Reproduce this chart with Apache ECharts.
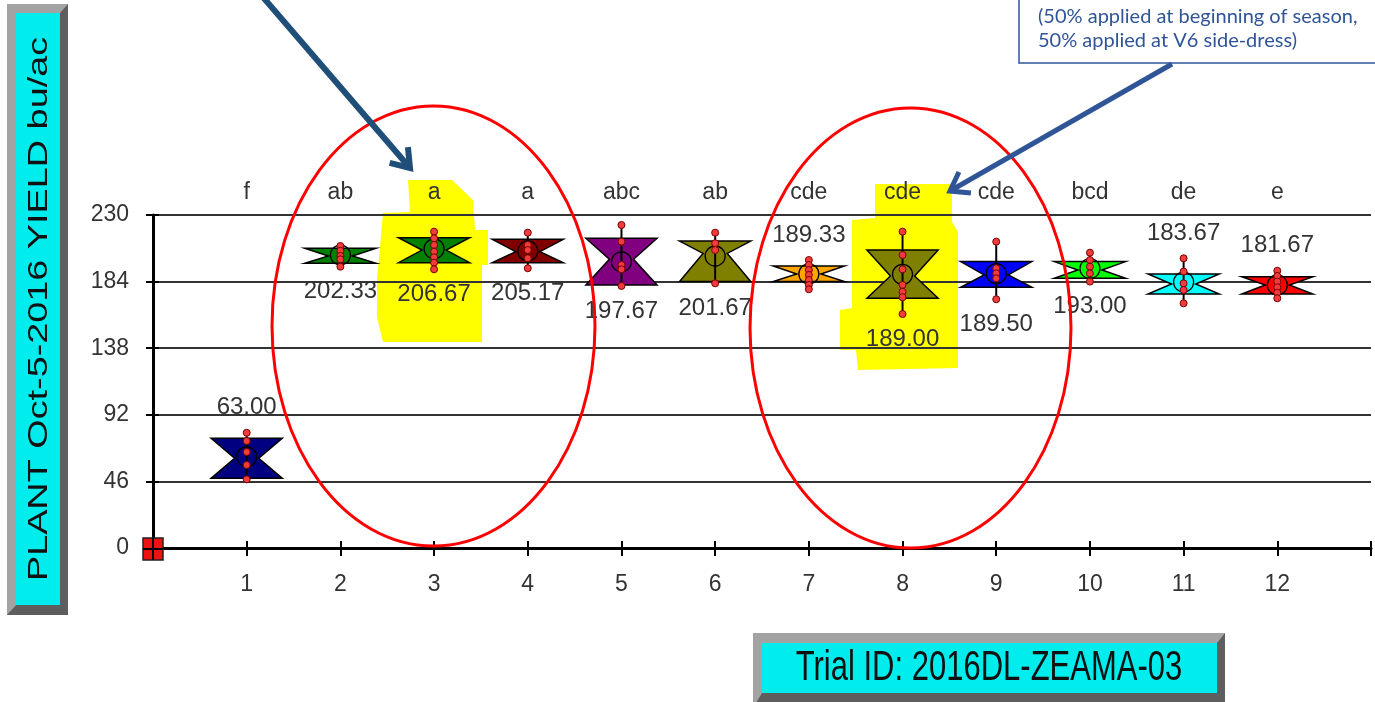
<!DOCTYPE html>
<html><head><meta charset="utf-8">
<script src="https://cdn.jsdelivr.net/npm/echarts@6/dist/echarts.min.js"></script>
<style>html,body{margin:0;padding:0;background:#fff}#c{width:1375px;height:702px}</style>
</head><body><div id="c"></div>
<script>
// ---------------- data ----------------
const treatments = [1,2,3,4,5,6,7,8,9,10,11,12];
const letters = ['f','ab','a','a','abc','ab','cde','cde','cde','bcd','de','e'];
const meanYield = [63.00,202.33,206.67,205.17,197.67,201.67,189.33,189.00,189.50,193.00,183.67,181.67];
const boxUpper  = [75.8,207.0,214.3,213.2,213.9,212.0,194.8,205.8,197.8,197.8,189.3,187.4];
const boxMiddle = [62.0,201.7,205.8,204.7,199.4,203.5,189.3,187.9,188.6,192.0,182.3,181.7];
const boxLower  = [48.1,196.6,197.1,197.1,181.7,184.0,184.0,172.5,180.1,186.3,175.4,175.4];
const repValues = [
  [79.6,73.9,66.3,57.3,47.4],
  [208.6,205.3,201.7,199.4,194.3],
  [218.5,213.9,209.3,204.7,200.8,197.1,192.5],
  [217.8,209.3,205.8,200.1,193.2],
  [223.1,211.6,195.5,192.5,181.0],
  [217.8,210.5,205.8,182.8],
  [198.9,195.5,192.0,188.6,185.1,181.7,178.7],
  [218.5,202.4,192.5,181.7,177.0,173.2,161.6],
  [211.6,193.2,189.7,186.3,171.8],
  [204.0,198.9,194.3,189.7,184.0],
  [200.1,190.9,182.8,178.2,169.0],
  [191.5,187.9,184.0,180.1,176.3,172.5]
];
const boxColors = ['#000080','#008000','#008000','#800000','#800080','#808000','#ffa500','#808000','#0000ff','#00ff00','#00ffff','#ff0000'];
const yTickValues = [0,46,92,138,184,230];
const yTitle = 'PLANT Oct-5-2016 YIELD bu/ac';
const trialTitle = 'Trial ID: 2016DL-ZEAMA-03';
const noteLines = ['(50% applied at beginning of season,', '50% applied at V6 side-dress)'];

// ---------------- rendering ----------------
const FONT = '"Liberation Sans", Arial, sans-serif';
const LABEL_ABOVE = new Set([0, 6, 10, 11]);
const yMin = yTickValues[0], yMax = yTickValues[yTickValues.length - 1];
const yStep = yTickValues[1] - yTickValues[0];

const boxData = treatments.map((t, i) => [t, boxUpper[i], boxMiddle[i], boxLower[i],
  Math.min(...repValues[i]), Math.max(...repValues[i]), meanYield[i]]);
const pointData = [];
treatments.forEach((t, i) => repValues[i].forEach(v => pointData.push([t, v])));

function renderBox(params, api) {
  const i = params.dataIndex;
  const x = api.value(0);
  const pT = api.coord([x, api.value(1)]);
  const pM = api.coord([x, api.value(2)]);
  const pB = api.coord([x, api.value(3)]);
  const pLo = api.coord([x, api.value(4)]);
  const pHi = api.coord([x, api.value(5)]);
  const pMean = api.coord([x, api.value(6)]);
  const pTopGrid = api.coord([x, yMax]);
  const hw = api.size([0.38, 0])[0];
  const iw = hw * 0.34;
  const cx = pT[0];
  const above = LABEL_ABOVE.has(i);
  return {
    type: 'group',
    children: [
      { type: 'polygon', z2: 1,
        shape: { points: [[cx - hw, pT[1]], [cx + hw, pT[1]], [cx + iw, pM[1]], [cx + hw, pB[1]], [cx - hw, pB[1]], [cx - iw, pM[1]]] },
        style: { fill: boxColors[i], stroke: '#000', lineWidth: 1.5 } },
      { type: 'circle', z2: 2, shape: { cx: cx, cy: pMean[1], r: 10 },
        style: { fill: 'none', stroke: '#000', lineWidth: 1.3 } },
      { type: 'line', z2: 3, shape: { x1: cx, y1: pHi[1], x2: cx, y2: pLo[1] },
        style: { stroke: '#000', lineWidth: 2 } },
      { type: 'text', z2: 4,
        style: { x: cx, y: above ? pHi[1] - 25 : pLo[1] + 25, text: api.value(6).toFixed(2),
          font: '24px ' + FONT, fill: '#333', align: 'center', verticalAlign: 'middle',
          textAlign: 'center', textVerticalAlign: 'middle' } },
      { type: 'text', z2: 4,
        style: { x: cx, y: pTopGrid[1] - 22, text: letters[i],
          font: '23px ' + FONT, fill: '#333', align: 'center', verticalAlign: 'middle',
          textAlign: 'center', textVerticalAlign: 'middle' } }
    ]
  };
}

function renderOrigin(params, api) {
  const p = api.coord([api.value(0), api.value(1)]);
  return { type: 'group', children: [
    { type: 'rect', shape: { x: p[0] - 10, y: p[1] - 10, width: 20, height: 22 },
      style: { fill: '#ee1111', stroke: '#222', lineWidth: 1.5 } },
    { type: 'line', shape: { x1: p[0], y1: p[1] - 10, x2: p[0], y2: p[1] + 12 }, style: { stroke: '#000', lineWidth: 2 } },
    { type: 'line', shape: { x1: p[0] - 10, y1: p[1] + 1, x2: p[0] + 10, y2: p[1] + 1 }, style: { stroke: '#000', lineWidth: 2 } }
  ]};
}

function arrow(x1, y1, x2, y2, color, w) {
  const dx = x2 - x1, dy = y2 - y1, L = Math.hypot(dx, dy);
  const bx = -dx / L, by = -dy / L, a = 35 * Math.PI / 180, h = 21;
  const w1 = [x2 + h * (bx * Math.cos(a) - by * Math.sin(a)), y2 + h * (bx * Math.sin(a) + by * Math.cos(a))];
  const w2 = [x2 + h * (bx * Math.cos(-a) - by * Math.sin(-a)), y2 + h * (bx * Math.sin(-a) + by * Math.cos(-a))];
  return [
    { type: 'line', z: 100, shape: { x1, y1, x2, y2 }, style: { stroke: color, lineWidth: w } },
    { type: 'polyline', z: 100, shape: { points: [w1, [x2, y2], w2] }, style: { stroke: color, lineWidth: w, fill: 'none', lineJoin: 'miter' } }
  ];
}

const graphics = [
  // highlights
  { type: 'polygon', z: -5, shape: { points: [[408,180],[452,180],[473,200],[475,230],[488,230],[488,265],[482,265],[482,342],[383,342],[377,317],[377,280],[383,213],[410,212]] }, style: { fill: '#ffff00' } },
  { type: 'polygon', z: -5, shape: { points: [[875,184],[952,184],[952,222],[958,232],[958,368],[858,370],[856,350],[840,350],[840,310],[852,308],[852,220],[875,218]] }, style: { fill: '#ffff00' } },
  // y title box
  { type: 'rect', z: 50, shape: { x: 7, y: 4, width: 61, height: 611 }, style: { fill: '#a3a3a3' } },
  { type: 'polygon', z: 50, shape: { points: [[68,4],[68,615],[7,615],[16,605],[60,605],[60,13]] }, style: { fill: '#5e5e5e' } },
  { type: 'rect', z: 51, shape: { x: 16, y: 13, width: 44, height: 592 }, style: { fill: '#00eced' } },
  { type: 'text', z: 52, x: 39, y: 309, rotation: Math.PI / 2, scaleX: 1.35,
    style: { text: yTitle, font: '28px ' + FONT, fill: '#111', align: 'center', verticalAlign: 'middle', textAlign: 'center', textVerticalAlign: 'middle' } },
  // trial box
  { type: 'rect', z: 50, shape: { x: 753, y: 633, width: 472, height: 75 }, style: { fill: '#a3a3a3' } },
  { type: 'polygon', z: 50, shape: { points: [[1225,633],[1225,708],[753,708],[762,693],[1217,693],[1217,643]] }, style: { fill: '#5e5e5e' } },
  { type: 'rect', z: 51, shape: { x: 762, y: 643, width: 455, height: 50 }, style: { fill: '#00eced' } },
  { type: 'text', z: 52, x: 989, y: 668, scaleY: 1.38,
    style: { text: trialTitle, font: '31px ' + FONT, fill: '#111', align: 'center', verticalAlign: 'middle', textAlign: 'center', textVerticalAlign: 'middle' } },
  // note box
  { type: 'rect', z: 60, shape: { x: 1019, y: -10, width: 400, height: 73 }, style: { fill: '#fff', stroke: '#2F5597', lineWidth: 1.5 } },
  { type: 'text', z: 61, x: 1038, y: 17, style: { text: noteLines[0], font: '20px Lato, "Open Sans", sans-serif', fill: '#2F5597', verticalAlign: 'middle', textVerticalAlign: 'middle' } },
  { type: 'text', z: 61, x: 1038, y: 41, style: { text: noteLines[1], font: '20px Lato, "Open Sans", sans-serif', fill: '#2F5597', verticalAlign: 'middle', textVerticalAlign: 'middle' } },
  // ellipses
  { type: 'ellipse', z: 90, shape: { cx: 433.5, cy: 326, rx: 161.5, ry: 220 }, style: { fill: 'none', stroke: '#ff0000', lineWidth: 3 } },
  { type: 'ellipse', z: 90, shape: { cx: 910.5, cy: 328, rx: 160.5, ry: 220 }, style: { fill: 'none', stroke: '#ff0000', lineWidth: 3 } },
  ...arrow(262, -4, 410, 168, '#1F4E79', 6),
  ...arrow(1172, 64, 950, 191, '#2F5597', 5)
];

const chart = echarts.init(document.getElementById('c'), null, { renderer: 'canvas' });
chart.setOption({
  backgroundColor: '#fff',
  animation: false,
  grid: { left: 153, right: 4, top: 215, bottom: 154, containLabel: false },
  xAxis: [
    { type: 'value', min: 0, max: 13, interval: 1,
      axisLine: { show: true, lineStyle: { color: '#000', width: 3 } },
      axisTick: { show: true, length: 8, lineStyle: { color: '#000', width: 2 } },
      axisLabel: { fontSize: 23, color: '#333', fontFamily: FONT, margin: 25,
        formatter: v => (treatments.indexOf(v) >= 0 ? String(v) : '') },
      splitLine: { show: false } },
    { type: 'value', min: 0, max: 13, interval: 1, position: 'bottom',
      axisLine: { show: false }, axisLabel: { show: false }, splitLine: { show: false },
      axisTick: { show: true, inside: true, length: 7, lineStyle: { color: '#000', width: 2 } } }
  ],
  yAxis: [
    { type: 'value', min: yMin, max: yMax, interval: yStep,
      axisLine: { show: true, lineStyle: { color: '#000', width: 3 } },
      axisTick: { show: true, length: 7, lineStyle: { color: '#000', width: 2 } },
      axisLabel: { fontSize: 23, color: '#333', fontFamily: FONT, margin: 24 },
      splitLine: { show: true, lineStyle: { color: '#333', width: 2 } } },
    { type: 'value', min: yMin, max: yMax, interval: yStep, position: 'left',
      axisLine: { show: false }, axisLabel: { show: false }, splitLine: { show: false },
      axisTick: { show: true, inside: true, length: 6, lineStyle: { color: '#000', width: 2 } } }
  ],
  series: [
    { type: 'custom', name: 'boxes', xAxisIndex: 0, yAxisIndex: 0, z: 3, clip: false,
      renderItem: renderBox, data: boxData },
    { type: 'scatter', name: 'reps', xAxisIndex: 0, yAxisIndex: 0, z: 5, symbol: 'circle', symbolSize: 7,
      itemStyle: { color: '#f03c3c', borderColor: '#7a0000', borderWidth: 1, opacity: 1 },
      data: pointData },
    { type: 'custom', name: 'origin', xAxisIndex: 0, yAxisIndex: 0, z: 6, clip: false,
      renderItem: renderOrigin, data: [[0, 0]] }
  ],
  graphic: { elements: graphics }
});
</script>
</body></html>
